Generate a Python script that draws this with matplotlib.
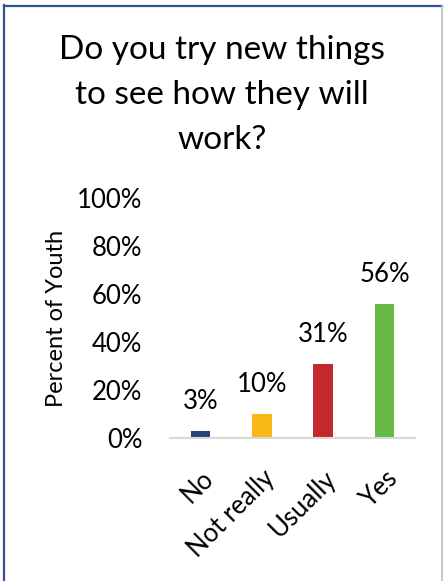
import matplotlib.pyplot as plt
from matplotlib.lines import Line2D
from matplotlib.ticker import PercentFormatter

plt.rcParams["font.family"] = ["Lato", "DejaVu Sans"]

categories = ["No", "Not really", "Usually", "Yes"]
percent_youth = [3, 10, 31, 56]
bar_colors = ["#264478", "#FBB917", "#C5282B", "#66BB46"]
y_ticks = [0, 20, 40, 60, 80, 100]

fig = plt.figure(figsize=(4.44, 5.81), dpi=100)
ax = fig.add_axes([0.383, 0.246, 0.552, 0.413])

x = range(len(categories))
bars = ax.bar(x, percent_youth, width=0.32, color=bar_colors, zorder=2)
for rect, val in zip(bars, percent_youth):
    ax.annotate(f"{val}%", (rect.get_x() + rect.get_width() / 2, val),
                xytext=(0, 12), textcoords="offset points",
                ha="center", va="bottom", fontsize=18.5)

ax.set_xlim(-0.5, len(categories) - 0.5)
ax.set_ylim(0, 100)
ax.set_yticks(y_ticks)
ax.yaxis.set_major_formatter(PercentFormatter(decimals=0))
ax.set_xticks(list(x))
ax.set_xticklabels(categories, rotation=45, ha="right", rotation_mode="anchor", fontsize=18.5)
ax.tick_params(axis="y", length=0, pad=20, labelsize=18.5)
ax.tick_params(axis="x", length=0, pad=20)
for name, spine in ax.spines.items():
    spine.set_visible(name == "bottom")
ax.spines["bottom"].set_color("#D9D9D9")
ax.spines["bottom"].set_linewidth(1.5)
ax.set_ylabel("Percent of Youth", fontsize=17, labelpad=7)

fig.text(0.5, 0.836, "Do you try new things\nto see how they will\nwork?",
         ha="center", va="center", fontsize=24, linespacing=1.62)

# frame around the chart area
fig.add_artist(Line2D([3.5 / 444, 3.5 / 444], [0, 1 - 5 / 581], color="#2F5597", lw=1.6))
fig.add_artist(Line2D([3.5 / 444, 442 / 444], [1 - 6 / 581, 1 - 6 / 581], color="#2F5597", lw=1.6))
fig.add_artist(Line2D([442 / 444, 442 / 444], [0, 1 - 6 / 581], color="#B4BCCB", lw=1.2))

fig.savefig("out.png", dpi=100)
